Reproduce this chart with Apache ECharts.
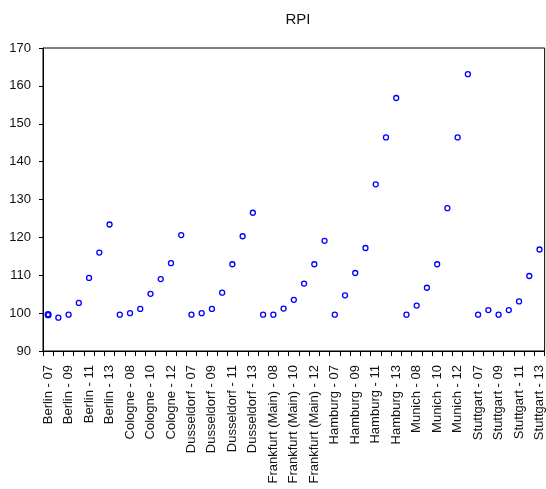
<!DOCTYPE html>
<html>
<head>
<meta charset="utf-8">
<script src="https://cdn.jsdelivr.net/npm/echarts@6/dist/echarts.min.js"></script>
<style>html,body{margin:0;padding:0;background:#fff}#c{width:546px;height:489px}</style>
</head>
<body>
<div id="c"></div>
<script>
const cities = ["Berlin", "Cologne", "Dusseldorf", "Frankfurt (Main)", "Hamburg", "Munich", "Stuttgart"];
const years = ["07", "08", "09", "10", "11", "12", "13"];
const berlin = [99.6, 98.8, 99.6, 102.7, 109.3, 116.0, 123.4];
const cologne = [99.6, 100.0, 101.1, 105.1, 109.0, 113.2, 120.6];
const dusseldorf = [99.6, 100.0, 101.1, 105.4, 112.9, 120.3, 126.5];
const frankfurt = [99.6, 99.6, 101.2, 103.5, 107.8, 112.9, 119.1];
const hamburg = [99.6, 104.7, 110.6, 117.2, 134.0, 146.4, 156.8];
const munich = [99.6, 102.0, 106.7, 112.9, 127.7, 146.4, 163.1];
const stuttgart = [99.6, 100.8, 99.6, 100.8, 103.1, 109.8, 116.8];
const yTicks = [90, 100, 110, 120, 130, 140, 150, 160, 170];

const seriesByCity = [berlin, cologne, dusseldorf, frankfurt, hamburg, munich, stuttgart];
const categories = [];
const values = [];
cities.forEach((c, i) => {
  years.forEach((y, j) => {
    categories.push(c + " - " + y);
    values.push(seriesByCity[i][j]);
  });
});
// first point appears bold in the reference (overlapping marks)
const seriesData = values.map((v, k) => k === 0 ? {value: v, itemStyle: {borderWidth: 2.2}} : v);

const chart = echarts.init(document.getElementById('c'), null, {renderer: 'canvas'});
chart.setOption({
  animation: false,
  backgroundColor: '#fff',
  textStyle: {fontFamily: 'Liberation Sans'},
  title: {
    text: 'RPI',
    left: 293, top: 7, textAlign: 'center',
    textStyle: {fontSize: 15, fontWeight: 'normal', color: '#111', fontFamily: 'Liberation Sans'}
  },
  grid: {
    left: 43, top: 48, width: 504, height: 303,
    show: true, borderColor: '#000', borderWidth: 1, backgroundColor: 'transparent'
  },
  xAxis: {
    type: 'category',
    data: categories,
    boundaryGap: true,
    axisLine: {show: true, lineStyle: {color: '#000', width: 1}},
    axisTick: {show: true, interval: 0, length: 5, lineStyle: {color: '#000'}},
    axisLabel: {
      interval: 1, rotate: 90, fontSize: 13, color: '#111', margin: 14,
      fontFamily: 'Liberation Sans'
    },
    splitLine: {show: false}
  },
  yAxis: {
    type: 'value',
    min: yTicks[0], max: yTicks[yTicks.length - 1], interval: 10,
    axisLine: {show: true, lineStyle: {color: '#000', width: 1}},
    axisTick: {show: true, length: 4, lineStyle: {color: '#000'}},
    axisLabel: {fontSize: 13, color: '#111', margin: 12, fontFamily: 'Liberation Sans'},
    splitLine: {show: false}
  },
  series: [{
    type: 'scatter',
    data: seriesData,
    symbol: 'circle',
    symbolSize: 5,
    itemStyle: {color: 'rgba(255,255,255,0)', borderColor: '#0000ff', borderWidth: 1.3, opacity: 1}
  }]
});
</script>
</body>
</html>
